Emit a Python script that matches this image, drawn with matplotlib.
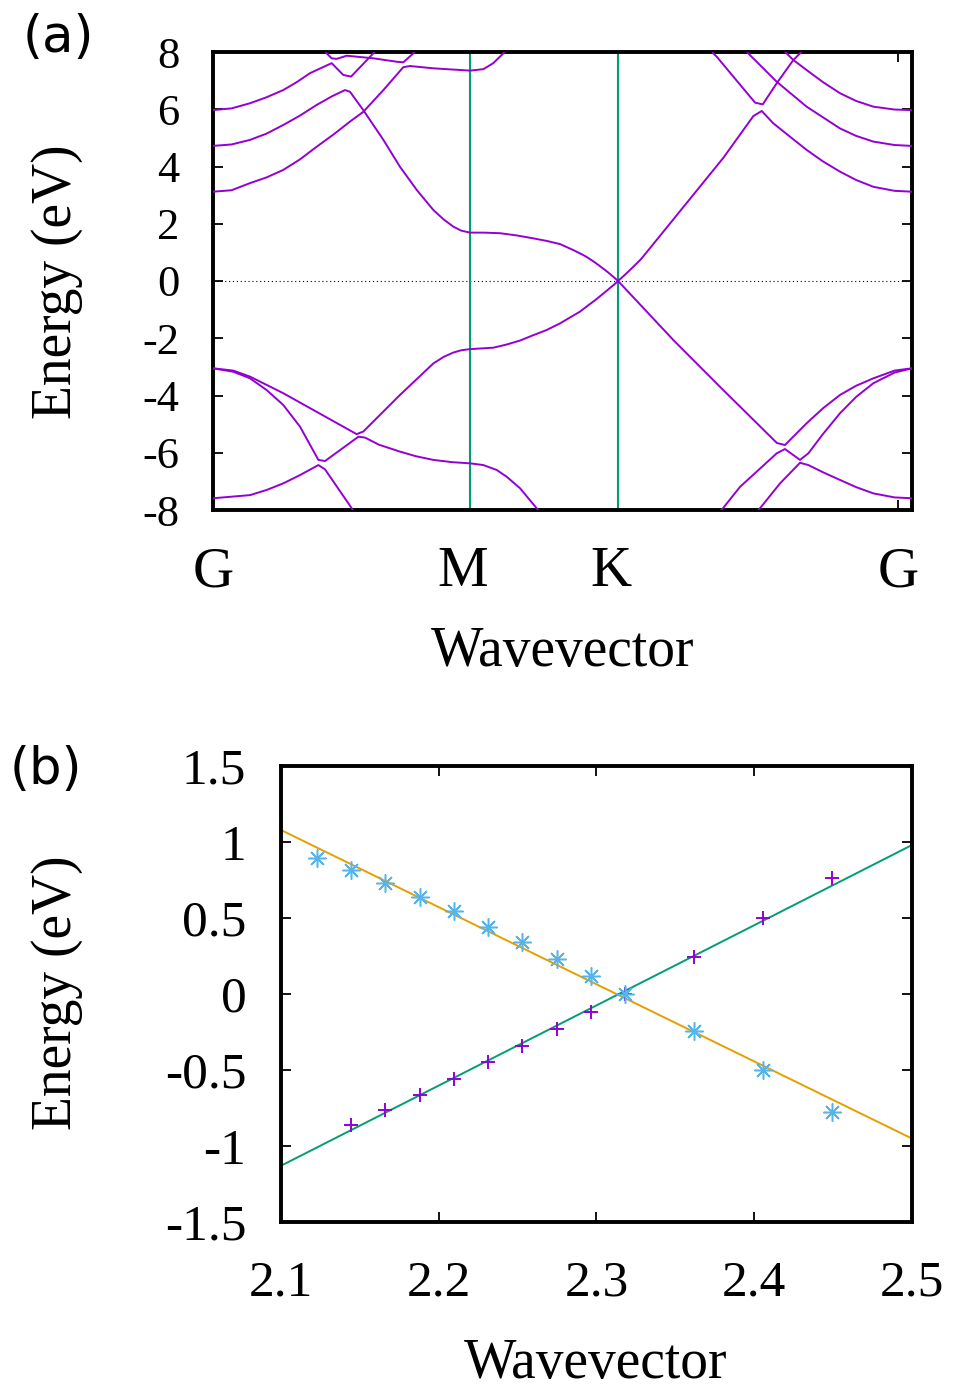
import numpy as np
import matplotlib
matplotlib.use('Agg')
import matplotlib.pyplot as plt
from matplotlib.transforms import ScaledTranslation

# ---------------------------------------------------------------------------
# Data
# ---------------------------------------------------------------------------
# (a) band structure along G-M-K-G  (k in 1/Angstrom, E in eV)
k_M, k_K = 1.471, 2.318
hs_ticks = [0.0, 1.471, 2.318, 3.92]
hs_labels = ['G', 'M', 'K', 'G']

# valence bands
k_v1 = [0, 0.212, 0.307, 0.402, 0.498, 0.603, 0.641, 0.794, 0.86, 2.3, 3.06,
        3.130, 3.245, 3.359, 3.407, 3.49, 3.588, 3.68, 3.779, 3.90, 4.0]
e_v1 = [-7.59, -7.48, -7.30, -7.07, -6.78, -6.43, -6.58, -7.94, -8.6, -12.0, -8.5,
        -7.94, -7.07, -6.35, -6.43, -6.68, -6.95, -7.20, -7.42, -7.56, -7.59]

k_v2 = [0, 0.116, 0.212, 0.307, 0.402, 0.498, 0.603, 0.641, 0.832, 0.870,
        0.95, 1.070, 1.16, 1.261, 1.37, 1.471, 1.547, 1.623, 1.681, 1.757, 1.852,
        1.95, 2.32, 2.8, 2.918, 3.016, 3.226, 3.273, 3.359, 3.407, 3.49, 3.588,
        3.68, 3.779, 3.90, 4.0]
e_v2 = [-3.05, -3.17, -3.40, -3.81, -4.33, -5.09, -6.25, -6.29, -5.44, -5.47,
        -5.72, -5.96, -6.12, -6.25, -6.33, -6.37, -6.43, -6.60, -6.84, -7.24, -7.94,
        -8.6, -9.5, -8.7, -7.94, -7.19, -6.02, -5.87, -6.25, -6.02, -5.35, -4.62,
        -4.05, -3.57, -3.20, -3.05]

k_v3 = [0, 0.116, 0.212, 0.402, 0.593, 0.822, 0.860, 1.070, 1.261, 1.32, 1.375,
        1.42, 1.471, 1.604, 1.68, 1.757, 1.83, 1.910, 1.986, 2.100, 2.1444,
        2.1881, 2.2528, 2.2965, 2.318, 2.634, 2.920, 3.227, 3.273, 3.397, 3.49,
        3.588, 3.68, 3.779, 3.90, 4.0]
e_v3 = [-3.05, -3.13, -3.34, -3.92, -4.57, -5.35, -5.26, -3.98, -2.88, -2.65, -2.50,
        -2.42, -2.38, -2.33, -2.22, -2.08, -1.90, -1.71, -1.48, -1.07, -0.862,
        -0.664, -0.342, -0.118, 0.0, -2.06, -3.81, -5.66, -5.73, -4.97, -4.45,
        -3.98, -3.66, -3.40, -3.13, -3.05]

# conduction bands
k_c1 = [0, 0.106, 0.212, 0.307, 0.402, 0.498, 0.593, 0.680, 0.755, 0.784, 0.860,
        0.975, 1.070, 1.166, 1.261, 1.32, 1.375, 1.42, 1.471, 1.55, 1.642, 1.74,
        1.833, 1.91, 1.986, 2.062, 2.1228, 2.1444, 2.1881, 2.2528, 2.2965, 2.318,
        2.3618, 2.4056, 2.4493, 2.634, 2.920, 3.092, 3.140, 3.206, 3.30, 3.397,
        3.49, 3.588, 3.68, 3.779, 3.90, 4.0]
e_c1 = [4.72, 4.77, 4.93, 5.15, 5.45, 5.78, 6.15, 6.45, 6.67, 6.61, 5.97,
        4.93, 3.99, 3.18, 2.48, 2.15, 1.90, 1.76, 1.69, 1.69, 1.67, 1.59,
        1.49, 1.40, 1.29, 1.08, 0.895, 0.816, 0.638, 0.342, 0.118, 0.0,
        0.243, 0.50, 0.763, 2.15, 4.30, 5.76, 5.94, 5.51, 5.05, 4.58,
        4.18, 3.82, 3.53, 3.29, 3.15, 3.12]

k_c2 = [0, 0.106, 0.212, 0.307, 0.402, 0.498, 0.593, 0.690, 0.784, 0.860, 0.975,
        1.089, 1.127, 1.261, 1.471, 1.547, 1.604, 1.661, 1.72]
e_c2 = [3.12, 3.17, 3.42, 3.62, 3.88, 4.25, 4.69, 5.12, 5.57, 5.91, 6.67,
        7.47, 7.51, 7.43, 7.35, 7.40, 7.61, 7.95, 8.4]

k_c3 = [0, 0.106, 0.212, 0.307, 0.402, 0.48, 0.555, 0.679, 0.745, 0.790, 0.917, 0.96]
e_c3 = [5.97, 6.03, 6.21, 6.42, 6.67, 6.95, 7.26, 7.61, 7.20, 7.14, 7.95, 8.3]

k_c4 = [0.62, 0.651, 0.679, 0.708, 0.765, 0.917, 1.051, 1.089, 1.146, 1.18]
e_c4 = [8.3, 7.95, 7.78, 7.76, 7.87, 7.78, 7.66, 7.64, 7.95, 8.3]

k_c5 = [2.84, 2.863, 2.882, 3.102, 3.146, 3.226, 3.321, 3.359, 3.38]
e_c5 = [8.3, 7.95, 7.84, 6.23, 6.17, 6.91, 7.72, 7.95, 8.1]

k_c6 = [3.03, 3.063, 3.226, 3.397, 3.588, 3.68, 3.779, 3.90, 4.0]
e_c6 = [8.3, 7.95, 6.96, 6.09, 5.33, 5.07, 4.87, 4.75, 4.72]

k_c7 = [3.26, 3.283, 3.321, 3.397, 3.49, 3.588, 3.68, 3.779, 3.90, 4.0]
e_c7 = [8.1, 7.95, 7.72, 7.37, 6.95, 6.56, 6.29, 6.09, 5.99, 5.97]

bands_k = [k_v1, k_v2, k_v3, k_c1, k_c2, k_c3, k_c4, k_c5, k_c6, k_c7]
bands_e = [e_v1, e_v2, e_v3, e_c1, e_c2, e_c3, e_c4, e_c5, e_c6, e_c7]

# (b) zoom around K: computed points and linear fits
k_cond = [2.1228, 2.1444, 2.1659, 2.1881, 2.2097, 2.2312, 2.2528, 2.2750,
          2.2965, 2.3181, 2.3618, 2.4056, 2.4493]
e_cond = [0.895, 0.816, 0.730, 0.638, 0.546, 0.441, 0.342, 0.230,
          0.118, 0.0, -0.243, -0.500, -0.776]
k_val = [2.1444, 2.1659, 2.1881, 2.2097, 2.2312, 2.2528, 2.2750,
         2.2965, 2.3181, 2.3618, 2.4056, 2.4493]
e_val = [-0.862, -0.763, -0.664, -0.559, -0.447, -0.342, -0.230,
         -0.118, 0.0, 0.243, 0.500, 0.763]
fit_slopes = [-5.075, 5.275]     # eV * Angstrom
fit_k0 = [2.3126, 2.3142]        # zero crossings

# ---------------------------------------------------------------------------
# Style
# ---------------------------------------------------------------------------
plt.rcParams['font.family'] = ['Liberation Serif', 'DejaVu Serif']
PURPLE = '#9400d3'
CYAN = '#56b4e9'
GREEN = '#009e73'
ORANGE = '#e69f00'

fig = plt.figure(figsize=(9.58, 13.89), dpi=100)
W, H = 958.0, 1389.0
ax1 = fig.add_axes([213 / W, 1 - 510 / H, 699 / W, 458 / H])
ax2 = fig.add_axes([281 / W, 1 - 1222 / H, 631 / W, 456 / H])

for ax in (ax1, ax2):
    for sp in ax.spines.values():
        sp.set_linewidth(2.8)
    ax.tick_params(direction='in', length=7, width=1.3, top=True, right=True)

# ---------------------------------------------------------------------------
# (a) band structure
# ---------------------------------------------------------------------------
for kk, ee in zip(bands_k, bands_e):
    ax1.plot(kk, ee, color=PURPLE, lw=1.4, zorder=3, solid_joinstyle='round')
ax1.axvline(k_M, color=GREEN, lw=1.5, zorder=2)
ax1.axvline(k_K, color=GREEN, lw=1.5, zorder=2)
ax1.axhline(0, color='black', lw=0.8, ls=(0, (1, 2.5)), zorder=1)

ax1.set_xlim(0, 4.0)
ax1.set_ylim(-8, 8)
ax1.set_xticks(hs_ticks)
ax1.set_xticklabels(hs_labels, fontsize=41)
yt1 = list(range(-8, 9, 2))
ax1.set_yticks(yt1)
ax1.set_yticklabels([f'{v:g}' for v in yt1], fontsize=32)
ax1.tick_params(axis='y', pad=24)
ax1.tick_params(axis='x', pad=26)
# M and K labels sit slightly left of their lines in the original
for lbl in ax1.get_xticklabels()[1:3]:
    lbl.set_transform(lbl.get_transform() +
                      ScaledTranslation(-7 / 100, 0, fig.dpi_scale_trans))

# ---------------------------------------------------------------------------
# (b) zoom around the Dirac point
# ---------------------------------------------------------------------------
kl = np.array([2.1, 2.5])
ax2.plot(kl, fit_slopes[0] * (kl - fit_k0[0]), color=ORANGE, lw=1.4, zorder=2)
ax2.plot(kl, fit_slopes[1] * (kl - fit_k0[1]), color=GREEN, lw=1.4, zorder=2)
ax2.plot(k_val, e_val, ls='none', marker='+', ms=10, mew=1.4,
         color=PURPLE, zorder=3)
ax2.plot(k_cond, e_cond, ls='none', marker=(8, 2, 0), ms=13, mew=1.1,
         color=CYAN, zorder=4)

ax2.set_xlim(2.1, 2.5)
ax2.set_ylim(-1.5, 1.5)
xt2 = [2.1, 2.2, 2.3, 2.4, 2.5]
yt2 = [-1.5, -1.0, -0.5, 0.0, 0.5, 1.0, 1.5]
ax2.set_xticks(xt2)
ax2.set_xticklabels([f'{v:g}' for v in xt2], fontsize=37)
ax2.set_yticks(yt2)
ax2.set_yticklabels([f'{v:g}' for v in yt2], fontsize=37)
ax2.tick_params(axis='y', pad=25)
ax2.tick_params(axis='x', pad=27)

# ---------------------------------------------------------------------------
# Labels
# ---------------------------------------------------------------------------
fig.text(57 / W, 1 - 282 / H, 'Energy (eV)', rotation=90, fontsize=40,
         ha='center', va='center')
fig.text(563 / W, 1 - 652 / H, 'Wavevector', fontsize=40,
         ha='center', va='center')
fig.text(57 / W, 1 - 993 / H, 'Energy (eV)', rotation=90, fontsize=40,
         ha='center', va='center')
fig.text(596 / W, 1 - 1364 / H, 'Wavevector', fontsize=40,
         ha='center', va='center')
fig.text(58 / W, 1 - 38 / H, '(a)', fontsize=37, family='DejaVu Sans',
         ha='center', va='center')
fig.text(46 / W, 1 - 770 / H, '(b)', fontsize=37, family='DejaVu Sans',
         ha='center', va='center')

fig.savefig('out.png', dpi=100)
